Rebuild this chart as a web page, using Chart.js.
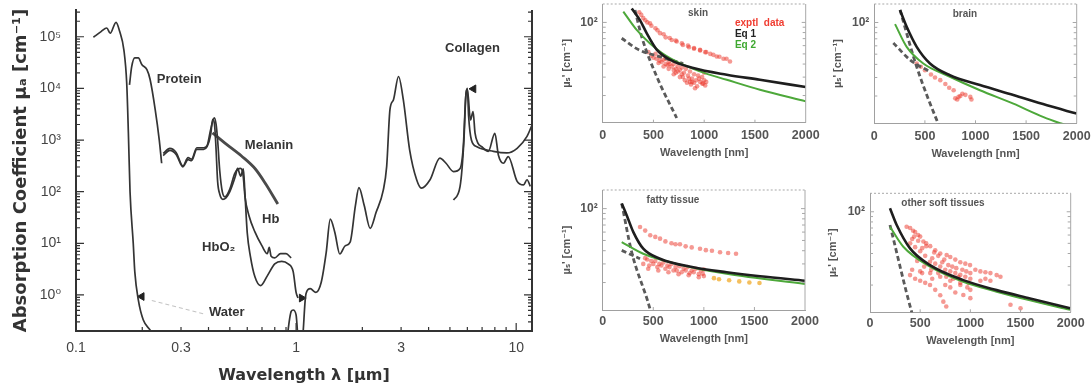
<!DOCTYPE html>
<html><head><meta charset="utf-8">
<script src="https://cdn.jsdelivr.net/npm/chart.js@4.4.1/dist/chart.umd.min.js"></script>
<style>
html,body{margin:0;padding:0;background:#fff;width:1092px;height:389px;overflow:hidden;}
canvas{position:absolute;}
</style></head><body>
<canvas id="main" width="545" height="389" style="left:0;top:0"></canvas>
<canvas id="skin" width="270" height="165" style="left:555px;top:0"></canvas>
<canvas id="brain" width="267" height="165" style="left:825px;top:0"></canvas>
<canvas id="fatty" width="270" height="165" style="left:555px;top:185px"></canvas>
<canvas id="soft" width="267" height="165" style="left:825px;top:185px"></canvas>
<script>
// ---------- Left panel: absorption spectra (wavelength µm, µa cm^-1) ----------
const mainXTicks = [0.1, 0.3, 1, 3, 10];
const mainXTickLabels = ['0.1', '0.3', '1', '3', '10'];
const mainYTicks = [1, 10, 100, 1000, 10000, 100000];
const mainYTickLabels = ['10⁰', '10¹', '10²', '10³', '10⁴', '10⁵'];

const waterUvWl = [0.120,0.130,0.138,0.143,0.152,0.158,0.165,0.170,0.173,0.176,0.182,0.185,0.192,0.202,0.217,0.23];
const waterUvMu = [9.8e4,1.26e5,1.48e5,1.17e5,1.9e5,1.26e5,5.6e4,1.26e4,1350,100,10,2.8,0.79,0.33,0.21,0.15];

const waterIrWl = [0.90,0.95,0.97,1.00,1.03,1.065,1.10,1.11,1.16,1.23,1.30,1.37,1.43,1.50,1.58,1.67,1.76,1.86,1.93,2.04,2.17,2.31,2.49,2.58,2.67,2.77,2.92,3.07,3.28,3.53,3.71,4.06,4.5,4.8,5.19,5.56,5.75,5.9,6.0,6.08,6.26,6.63,7.88,9.07,10.1,11.2,11.8];
const waterIrMu = [0.1,0.48,0.51,0.41,0.1,0.12,0.79,1.07,1.32,1.12,1.74,6.6,29.5,16.2,6.2,8.9,10.5,53.7,120,53.7,19.5,39.8,107,309,3890,6030,1.7e4,6030,646,170,117,170,447,355,245,282,741,6900,1.0e4,2880,1000,741,603,562,692,1175,1950];

const proteinWl = [0.175,0.179,0.185,0.192,0.199,0.210,0.217,0.229,0.239,0.245];
const proteinMu = [1.17e4,2.6e4,3.9e4,3.9e4,2.9e4,2.3e4,1.5e4,3.9e3,1.0e3,355];

const hbWl = [0.249,0.267,0.285,0.306,0.323,0.335,0.354,0.380,0.394,0.409,0.425,0.433,0.440,0.450,0.462,0.475,0.500,0.526,0.545,0.560,0.575,0.586,0.61,0.65,0.70,0.74,0.755,0.77,0.80,0.85,0.90,0.95];
const hbMu = [550,690,575,316,457,427,708,708,776,1585,2690,2000,1000,251,100,79,112,224,275,282,200,79,35,16.6,8.9,6.3,8.3,5.6,5.2,6.3,6.3,5.2];

const hbo2Wl = [0.249,0.267,0.285,0.306,0.323,0.335,0.354,0.380,0.394,0.409,0.418,0.426,0.432,0.440,0.450,0.465,0.480,0.500,0.530,0.542,0.560,0.576,0.585,0.600,0.620,0.650,0.690,0.740,0.800,0.860,0.920,0.970,1.000,1.020];
const hbo2Mu = [500,630,525,302,417,398,660,660,741,1260,2510,2000,794,158,89,71,76,100,200,282,200,275,100,15.8,5.6,2.24,1.51,2.34,3.98,4.47,3.98,2.82,1.12,0.87];

const melaninWl = [0.417,0.472,0.565,0.653,0.728,0.826];
const melaninMu = [1380,890,490,275,141,57.5];

const collagenWl = [5.19,5.56,5.79,5.9,6.0,6.2,6.37,6.5,6.7,6.98,7.47,8.0,8.3,8.75,9.2,10.1,10.8,11.2,11.6];
const collagenMu = [69,126,1000,6900,9550,2450,3550,1380,871,741,603,1350,513,355,479,158,135,170,126];

const leaderWl = [0.221, 0.38];
const leaderMu = [0.78, 0.43];
const arrowWl = [0.199, 1.06, 6.40];
const arrowMu = [0.93, 0.87, 9800];
const arrowRot = [-90, 90, -90];

// ---------- Right panels: reduced scattering (wavelength nm, µs' cm^-1) ----------
const panelXTicks = [0, 500, 1000, 1500, 2000];
const panelXTickLabels = ['0', '500', '1000', '1500', '2000'];
const panelYTicks = [100];
const panelYTickLabels = ['10²'];

const skinEq1Wl = [286,367,433,532,663,893,1222,1549,2000];
const skinEq1Mu = [136,105,79,55,44,36.6,31.6,28.3,24.1];
const skinEq2Wl = [203,335,466,663,958,1222,1549,2000];
const skinEq2Mu = [127,84.7,63,45.5,34,28.3,22.7,17.6];
const skinRayWl = [318,384,532,729];
const skinRayMu = [131.5,73,30.4,12.2];
const skinMieWl = [187,351,563,793];
const skinMieMu = [70.6,55,47,40.5];
const skinExptWl = [360,380,400,420,440,466,520,565,620,680,729,790,850,900,959,1010,1060,1123,1190,1254,
  480,540,600,660,720,780,840,900,960,1020,1090,1150,1220,
  450,480,500,530,560,580,600,620,650,680,700,720,740,760,780,800,820,840,860,880,900,920,940,960,980,1000,1000,830,870,900,760,700,650,1020,1010,950,600,550,520,700,850,780,
  620,660,740,790,880,930,980,560,640,720,810,860,910,990];
const skinExptMu = [125,118,110,105,100,98,88,79,72,68,65.6,61,58,56,54.6,52,50,47.2,45,42.3,
  93,84,77,71,67,63,60,57,54,52,49,47,45,
  52,48,46,45,47,42,44,40,42,38,40,36,38,35,37,33,36,31,34,29,32,28,31,27,30,33,28,26.5,25.5,26.5,30,32,36,27,25,29,38,41,50,35,29,32,
  45,40,34,30,27,24.5,26,43,39,33,28,27,23.5,26];

const brainEq1Wl = [254,320,419,550,747,1044,1374,1706,2000];
const brainEq1Mu = [131.5,91,58.7,40.8,31.5,25.4,20.4,16.3,13.6];
const brainEq2Wl = [205,320,484,715,1044,1374,1673,1838,1900];
const brainEq2Mu = [96.6,58.7,40.8,31.5,22.7,16.9,12.6,11.0,10.5];
const brainRayWl = [254,419,632,660];
const brainRayMu = [131.5,37.9,10.9,9.5];
const brainMieWl = [188,356,550];
const brainMieMu = [64,43.9,34];
const brainExptWl = [419,460,501,560,600,652,702,740,784,800,820,833,850,870,900,949,960];
const brainExptMu = [40.8,38,35.2,32,30,28.3,26,24,22.7,19,18.5,19.6,20,21,20.5,19.6,18.5];

const fattyEq1Wl = [188,237,303,401,567,896,1226,1556,2000];
const fattyEq1Mu = [112,86.7,60,41.8,33.6,27.9,25,22.9,20.8];
const fattyEq2Wl = [188,401,732,1226,2000];
const fattyEq2Mu = [48.3,37.4,30,24.2,19.4];
const fattyRayWl = [188,287,468,480];
const fattyRayMu = [112,38.7,11.2,10];
const fattyMieWl = [188,369];
const fattyMieMu = [40.3,33.6];
const fattyExptWl = [369,420,470,520,567,620,680,720,764,820,880,962,1020,1080,1160,1240,1318,
  401,420,440,460,480,500,520,540,560,580,600,620,640,660,680,700,720,732,760,780,800,820,840,860,880,900,920,950,970,989,1000,1000,
  450,550,650,750,850,950];
const fattyExptMu = [67,62,56,54,52,49,47,46,46,44,43,41.8,40.5,40,38.7,38,37.4,
  30,34,33,29,32,30,32,28,30,29,31,27,29,28,30,26,28,26,28.5,25,27,26,28,24.5,26,25,27,24,26,24.2,23,26.5,
  27,26,25,24,23.5,22.5];
const fattyOrangeWl = [1100,1150,1250,1350,1450,1550];
const fattyOrangeMu = [22,21.5,21,20.5,20,19.8];

const softEq1Wl = [199,266,399,598,930,1262,1595,1994];
const softEq1Mu = [108,74.8,44.8,31,22.3,17.9,14.9,12];
const softEq2Wl = [199,332,598,930,1262,1595,1994];
const softEq2Mu = [72,46.4,30,21.5,17.3,14.3,11.6];
const softRayWl = [199,415,430];
const softRayMu = [74.8,11.1,10];
const softExptWl = [365,400,430,450,480,500,532,560,600,650,700,764,800,850,900,950,997,1050,1100,1150,1200,1262,1300,
  400,420,450,500,520,550,598,620,650,700,720,750,800,820,850,900,920,950,1000,1000,1100,1150,1200,
  399,420,450,500,520,550,598,620,650,700,731,760,500,600,700,800,900,930,1000,1000,850,800,750,1400,1500,
  440,480,560,640,680,740,780,860,880,960,980,470,540,610,680,760,830,900,970];
const softExptMu = [72,70,66,64,60,58,52,50,47,43,40,38.6,37,35,33,32,31,28,27,26.5,26,24.9,24,
  50,55,46,42,45,38,33.3,36,32,30,33,28,27,30,26,25,28,24,23,26,22,23,22,
  24.9,28,23,22,26,21,20,23,18,16,13.9,12.5,27,26,24,22,20,16.1,18,15,17,19,20,13,12,
  58,53,47,41,38,35,31,29,24,27,21,34,30,28,26,24,23,21,19];

const panelYMin = 11, panelYMax = 150;

// ---------- helpers ----------
Chart.defaults.font.family = '"Liberation Sans", "DejaVu Sans", Arial, sans-serif';
function pts(xs, ys) { return xs.map((x, i) => ({x: x, y: ys[i]})); }
function zeroPad(s) { s.paddingLeft = 0; s.paddingRight = 0; s.paddingTop = 0; s.paddingBottom = 0; }

const frameTicks = {
  id: 'frameTicks',
  afterDatasetsDraw(chart, args, o) {
    const ctx = chart.ctx, a = chart.chartArea, x = chart.scales.x, y = chart.scales.y;
    ctx.save();
    ctx.strokeStyle = o.color;
    ctx.lineWidth = o.frameWidth;
    if (o.right) { ctx.beginPath(); ctx.moveTo(a.right, a.top); ctx.lineTo(a.right, a.bottom); ctx.stroke(); }
    if (o.top) { ctx.beginPath(); ctx.setLineDash(o.topDash || []); ctx.moveTo(a.left, a.top); ctx.lineTo(a.right, a.top); ctx.stroke(); ctx.setLineDash([]); }
    ctx.lineWidth = o.tickWidth;
    ctx.beginPath();
    (o.xTicks || []).forEach(t => {
      const p = x.getPixelForValue(t[0]);
      if (p < a.left - 0.5 || p > a.right + 0.5) return;
      ctx.moveTo(p, a.bottom); ctx.lineTo(p, a.bottom - t[1]);
    });
    (o.yTicks || []).forEach(t => {
      const p = y.getPixelForValue(t[0]);
      if (p < a.top - 0.5 || p > a.bottom + 0.5) return;
      ctx.moveTo(a.left, p); ctx.lineTo(a.left + t[1], p);
      if (o.right) { ctx.moveTo(a.right, p); ctx.lineTo(a.right - t[1], p); }
    });
    ctx.stroke();
    ctx.restore();
  }
};

const notes = {
  id: 'notes',
  afterDatasetsDraw(chart, args, o) {
    const ctx = chart.ctx, x = chart.scales.x, y = chart.scales.y;
    (o.items || []).forEach(n => {
      ctx.save();
      ctx.font = n.font; ctx.fillStyle = n.color;
      ctx.textAlign = n.align || 'left'; ctx.textBaseline = 'middle';
      ctx.fillText(n.text, x.getPixelForValue(n.x), y.getPixelForValue(n.y));
      ctx.restore();
    });
  }
};

// ---------- main chart ----------
const ink = '#343434';
function lineDs(label, xs, ys, extra) {
  return Object.assign({label: label, data: pts(xs, ys), borderColor: ink, borderWidth: 1.7,
    pointRadius: 0, fill: false, cubicInterpolationMode: 'monotone'}, extra || {});
}
const mainMinorX = [], mainMinorY = [];
for (let n = -1; n <= 1; n++) for (let k = 1; k <= 9; k++) mainMinorX.push([k * Math.pow(10, n), k === 1 ? 8 : 4]);
for (let n = -1; n <= 5; n++) for (let k = 1; k <= 9; k++) mainMinorY.push([k * Math.pow(10, n), k === 1 ? 8 : 4]);

const labFont = 'bold 13px "Liberation Sans", "DejaVu Sans", sans-serif';
new Chart(document.getElementById('main'), {
  type: 'line',
  data: {datasets: [
    lineDs('Water (UV)', waterUvWl, waterUvMu),
    lineDs('Water', waterIrWl, waterIrMu),
    lineDs('Protein', proteinWl, proteinMu),
    lineDs('Hb', hbWl, hbMu),
    lineDs('HbO2', hbo2Wl, hbo2Mu),
    lineDs('Melanin', melaninWl, melaninMu, {borderWidth: 2.8, borderColor: '#4a4a4a'}),
    lineDs('Collagen', collagenWl, collagenMu),
    lineDs('leader', leaderWl, leaderMu, {borderColor: '#c4c4c4', borderWidth: 1.2, borderDash: [4, 3]}),
    {label: 'arrows', data: pts(arrowWl, arrowMu), showLine: false, pointStyle: 'triangle',
     pointRadius: 4.5, pointRotation: arrowRot, backgroundColor: '#222', borderColor: '#222'}
  ]},
  options: {
    responsive: false, animation: false, events: [],
    layout: {padding: {left: 0, top: 10, right: 13, bottom: 0}},
    plugins: {
      legend: {display: false}, tooltip: {enabled: false},
      frameTicks: {color: '#333', frameWidth: 2, tickWidth: 1.2, right: true, top: false, xTicks: mainMinorX, yTicks: mainMinorY},
      notes: {items: [
        {text: 'Protein', x: 0.233, y: 1.48e4, font: labFont, color: ink},
        {text: 'Melanin', x: 0.585, y: 773, font: labFont, color: ink},
        {text: 'Hb', x: 0.700, y: 28.4, font: labFont, color: ink},
        {text: 'HbO₂', x: 0.374, y: 8.5, font: labFont, color: ink},
        {text: 'Water', x: 0.402, y: 0.45, font: labFont, color: ink},
        {text: 'Collagen', x: 4.75, y: 5.85e4, font: labFont, color: ink}
      ]}
    },
    scales: {
      x: {type: 'logarithmic', min: 0.1, max: 11.8,
        afterBuildTicks: s => { s.ticks = mainXTicks.map(v => ({value: v})); },
        afterFit: s => { s.height = 58; zeroPad(s); },
        grid: {display: false, drawTicks: false}, border: {display: true, color: '#333', width: 2},
        ticks: {autoSkip: false, maxRotation: 0, padding: 9, color: '#444', font: {size: 14},
          callback: (v, i) => mainXTickLabels[i]},
        title: {display: true, text: 'Wavelength λ [µm]', color: '#333', font: {family: '"DejaVu Sans", sans-serif', size: 16, weight: 'bold'}, padding: {top: 0, bottom: 4}}
      },
      y: {type: 'logarithmic', min: 0.2, max: 3.3e5,
        afterBuildTicks: s => { s.ticks = mainYTicks.map(v => ({value: v})); },
        afterFit: s => { s.width = 76; zeroPad(s); },
        grid: {display: false, drawTicks: false}, border: {display: true, color: '#333', width: 2},
        ticks: {autoSkip: false, padding: 15, color: '#444', font: {size: 14},
          callback: (v, i) => mainYTickLabels[i]},
        title: {display: true, text: 'Absorption Coefficient µₐ [cm⁻¹]', color: '#333', font: {family: '"DejaVu Sans", sans-serif', size: 18, weight: 'bold'}, padding: {top: 11, bottom: 0}}
      }
    }
  },
  plugins: [frameTicks, notes]
});

// ---------- small panels ----------
const black = '#1e1e1e', green = '#4da83a', dashGray = '#5a5a5a', red = 'rgba(236,52,40,0.5)', orange = 'rgba(240,170,40,0.75)';
function eqDs(label, xs, ys, color, w) {
  return {label: label, data: pts(xs, ys), borderColor: color, borderWidth: w, pointRadius: 0, fill: false, cubicInterpolationMode: 'monotone'};
}
function dashDs(label, xs, ys) {
  return {label: label, data: pts(xs, ys), borderColor: dashGray, borderWidth: 2.8, borderDash: [5, 3], pointRadius: 0, fill: false, cubicInterpolationMode: 'monotone'};
}
function dotDs(label, xs, ys, color) {
  return {label: label, data: pts(xs, ys), showLine: false, pointRadius: 2.3, pointBorderWidth: 0, backgroundColor: color, borderColor: color};
}
const panelMinorY = [[20,3],[30,3],[40,3],[50,3],[60,3],[70,3],[80,3],[90,3],[100,4]];
const panelMinorX = [[500,3],[1000,3],[1500,3]];
const pFont = 'bold 10px "Liberation Sans", "DejaVu Sans", sans-serif';

function panel(id, lay, sets, items) {
  new Chart(document.getElementById(id), {
    type: 'line',
    data: {datasets: sets},
    options: {
      responsive: false, animation: false, events: [],
      layout: {padding: {left: 0, top: lay.T, right: lay.W - lay.R, bottom: 0}},
      plugins: {
        legend: {display: false}, tooltip: {enabled: false},
        frameTicks: {color: '#a8a8a8', frameWidth: 1, tickWidth: 1, right: true, top: true, topDash: [2, 2], xTicks: panelMinorX, yTicks: panelMinorY},
        notes: {items: items}
      },
      scales: {
        x: {type: 'linear', min: 0, max: 2000,
          afterBuildTicks: s => { s.ticks = panelXTicks.map(v => ({value: v})); },
          afterFit: s => { s.height = lay.H - lay.B; zeroPad(s); },
          grid: {display: false, drawTicks: false}, border: {display: true, color: '#a0a0a0', width: 1},
          ticks: {autoSkip: false, maxRotation: 0, padding: lay.xtp, color: '#555', font: {size: 12.5, weight: 'bold'},
            callback: (v, i) => panelXTickLabels[i]},
          title: {display: true, text: 'Wavelength [nm]', color: '#555', font: {size: 11, weight: 'bold'}, padding: {top: 0, bottom: lay.xtb}}
        },
        y: {type: 'logarithmic', min: panelYMin, max: panelYMax,
          afterBuildTicks: s => { s.ticks = panelYTicks.map(v => ({value: v})); },
          afterFit: s => { s.width = lay.L; zeroPad(s); },
          grid: {display: false, drawTicks: false}, border: {display: true, color: '#a0a0a0', width: 1},
          ticks: {autoSkip: false, padding: 5, color: '#555', font: {size: 12, weight: 'bold'},
            callback: (v, i) => panelYTickLabels[i]},
          title: {display: true, text: "µₛ' [cm⁻¹]", color: '#555', font: {size: 11, weight: 'bold'}, padding: {top: lay.ytp, bottom: 0}}
        }
      }
    },
    plugins: [frameTicks, notes]
  });
}

panel('skin', {W: 270, H: 165, L: 47.7, R: 250.7, T: 4, B: 122.7, xtp: 5, xtb: 5.7, ytp: 5.4}, [
  eqDs('Eq 1', skinEq1Wl, skinEq1Mu, black, 2.6),
  eqDs('Eq 2', skinEq2Wl, skinEq2Mu, green, 2),
  dashDs('Rayleigh', skinRayWl, skinRayMu),
  dashDs('Mie', skinMieWl, skinMieMu),
  dotDs('exptl data', skinExptWl, skinExptMu, red)
], [
  {text: 'skin', x: 939, y: 123, font: pFont, color: '#555', align: 'center'},
  {text: 'exptl  data', x: 1303, y: 98.8, font: 'bold 10px "Liberation Sans", sans-serif', color: '#f03c30'},
  {text: 'Eq 1', x: 1303, y: 77.6, font: 'bold 10px "Liberation Sans", sans-serif', color: '#222'},
  {text: 'Eq 2', x: 1303, y: 61, font: 'bold 10px "Liberation Sans", sans-serif', color: '#3fa830'}
]);

panel('brain', {W: 267, H: 165, L: 49.3, R: 251.7, T: 4, B: 123.3, xtp: 6, xtb: 4.4, ytp: 6.4}, [
  eqDs('Eq 1', brainEq1Wl, brainEq1Mu, black, 2.6),
  eqDs('Eq 2', brainEq2Wl, brainEq2Mu, green, 2),
  dashDs('Rayleigh', brainRayWl, brainRayMu),
  dashDs('Mie', brainMieWl, brainMieMu),
  dotDs('exptl data', brainExptWl, brainExptMu, red)
], [
  {text: 'brain', x: 896, y: 120, font: pFont, color: '#555', align: 'center'}
]);

panel('fatty', {W: 270, H: 165, L: 47.7, R: 250, T: 5, B: 125, xtp: 4, xtb: 4.4, ytp: 5.4}, [
  eqDs('Eq 1', fattyEq1Wl, fattyEq1Mu, black, 2.6),
  eqDs('Eq 2', fattyEq2Wl, fattyEq2Mu, green, 2),
  dashDs('Rayleigh', fattyRayWl, fattyRayMu),
  dashDs('Mie', fattyMieWl, fattyMieMu),
  dotDs('exptl data', fattyExptWl, fattyExptMu, red),
  dotDs('exptl data 2', fattyOrangeWl, fattyOrangeMu, orange)
], [
  {text: 'fatty tissue', x: 695, y: 120, font: pFont, color: '#555', align: 'center'}
]);

panel('soft', {W: 267, H: 165, L: 45, R: 245.7, T: 8.3, B: 127.3, xtp: 4, xtb: 2.4, ytp: 1.4}, [
  eqDs('Eq 1', softEq1Wl, softEq1Mu, black, 2.6),
  eqDs('Eq 2', softEq2Wl, softEq2Mu, green, 2),
  dashDs('Rayleigh', softRayWl, softRayMu),
  dotDs('exptl data', softExptWl, softExptMu, red)
], [
  {text: 'other soft tissues', x: 727, y: 121, font: pFont, color: '#555', align: 'center'}
]);
</script>
</body></html>
